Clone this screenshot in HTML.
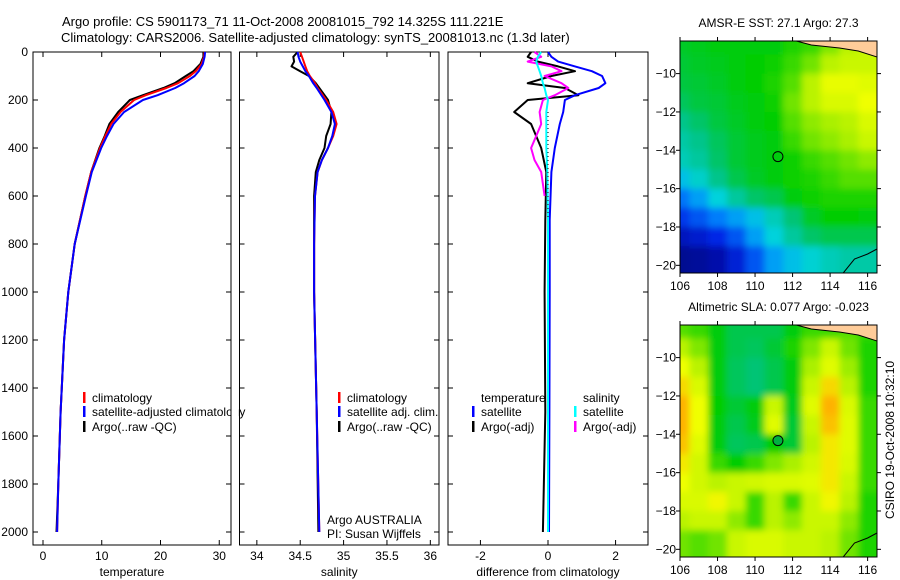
<!DOCTYPE html>
<html><head><meta charset="utf-8"><style>
body{margin:0;background:#fff}
svg{display:block;font-family:"Liberation Sans",sans-serif}
</style></head><body>
<svg id="fig" width="900" height="580" viewBox="0 0 900 580">
<defs>
<clipPath id="c1"><rect x="680" y="41" width="197" height="232"/></clipPath>
<clipPath id="c2"><rect x="680" y="325" width="197" height="232"/></clipPath>
<filter id="bl" x="-20%" y="-20%" width="140%" height="140%"><feGaussianBlur stdDeviation="3.5"/></filter>
</defs>
<text x="62" y="26" font-size="13">Argo profile: CS 5901173_71 11-Oct-2008 20081015_792 14.325S 111.221E</text>
<text x="61" y="42" font-size="13">Climatology: CARS2006. Satellite-adjusted climatology: synTS_20081013.nc (1.3d later)</text>
<g id="plots"></g>
</svg>
<script>
const NS="http://www.w3.org/2000/svg";
const svg=document.getElementById('plots');
function mk(t,a,p){const e=document.createElementNS(NS,t);for(const k in a)e.setAttribute(k,a[k]);(p||svg).appendChild(e);return e;}

// ---- data ----
const tDepth=[0,20,50,80,100,130,150,180,200,250,300,350,400,500,600,800,1000,1200,1500,1800,2000];
const tClim=[27.5,27.4,27,26,25,23,21,17.5,15.5,13.2,11.6,10.6,9.7,8.2,7.2,5.4,4.3,3.6,3.0,2.6,2.4];
const tSat=[27.6,27.5,27.2,26.5,25.8,24,22.5,19.5,17,13.8,12,10.9,9.9,8.3,7.3,5.4,4.3,3.6,3.0,2.6,2.4];
const tArgo=[27.3,27.3,26.8,25.6,24.3,22.4,20.5,17,14.8,12.8,11.3,10.5,9.6,8.2,7.2,5.4,4.3,3.6,3.0,2.6,2.3];
const sDepth=[0,20,40,60,80,100,130,150,200,250,300,350,400,450,500,600,800,1000,1500,2000];
const sClim=[34.5,34.52,34.54,34.56,34.58,34.61,34.67,34.7,34.8,34.88,34.92,34.88,34.82,34.75,34.7,34.67,34.66,34.66,34.69,34.72];
const sSat=[34.47,34.48,34.5,34.53,34.56,34.6,34.65,34.69,34.78,34.86,34.9,34.87,34.82,34.75,34.7,34.67,34.66,34.66,34.69,34.72];
const sArgo=[34.47,34.42,34.43,34.40,34.5,34.6,34.68,34.72,34.82,34.86,34.85,34.8,34.78,34.72,34.68,34.66,34.66,34.66,34.69,34.71];
const dDepth=[0,20,40,60,80,100,130,150,180,200,250,300,400,500,700,1000,1500,2000];
const dTSat=[0,0.1,0.3,0.8,1.3,1.6,1.7,1.5,0.8,0.5,0.45,0.35,0.2,0.1,0.05,0.05,0.04,0.03];
const dTArgo=[-0.5,-0.6,-0.3,0.3,0.8,0.1,-0.6,0.5,0.9,-0.6,-1.0,-0.5,-0.2,-0.05,-0.08,-0.1,-0.08,-0.15];
const dSSat=[-0.2,-0.3,-0.35,-0.3,-0.25,-0.2,-0.15,-0.1,-0.05,0,-0.05,-0.05,-0.05,-0.02,0,0,0,0];
const mDepth=[0,20,40,60,80,100,130,150,180,200,250,300,350,400,450,500,550,600];
const dSArgo=[-0.4,-0.2,-0.6,0.1,0.4,-0.1,0.4,0.6,0.2,-0.15,-0.25,-0.2,-0.35,-0.5,-0.4,-0.2,-0.15,-0.1];
const depthTicks=[0,200,400,600,800,1000,1200,1400,1600,1800,2000];
const tTicks=[0,10,20,30], sTicks=[34,34.5,35,35.5,36], dTicks=[-2,0,2];

const sstGrid=[
[.53,.54,.55,.55,.55,.55,.58,.6,.65,.7,.72],
[.52,.53,.54,.55,.56,.57,.6,.64,.7,.72,.72],
[.51,.52,.53,.55,.56,.58,.62,.7,.76,.76,.75],
[.49,.51,.52,.54,.55,.57,.64,.7,.74,.74,.77],
[.45,.48,.51,.53,.55,.56,.62,.66,.68,.7,.74],
[.42,.45,.49,.52,.54,.55,.6,.64,.66,.68,.72],
[.4,.43,.48,.52,.54,.55,.57,.6,.62,.64,.66],
[.33,.38,.45,.5,.53,.55,.57,.58,.6,.62,.62],
[.22,.28,.36,.43,.48,.5,.55,.57,.58,.58,.58],
[.14,.18,.23,.28,.33,.4,.47,.53,.56,.56,.55],
[.07,.09,.12,.18,.28,.36,.43,.48,.5,.5,.5],
[.02,.03,.05,.1,.18,.28,.33,.37,.4,.42,.42]];
const slaGrid=[
[.62,.6,.55,.5,.5,.5,.55,.6,.6,.62,.6],
[.7,.65,.55,.5,.49,.52,.58,.65,.72,.64,.58],
[.77,.7,.55,.49,.47,.5,.55,.68,.75,.67,.58],
[.82,.74,.55,.49,.47,.5,.55,.72,.82,.7,.58],
[.87,.77,.56,.52,.55,.72,.54,.75,.87,.74,.6],
[.87,.77,.55,.5,.54,.75,.52,.72,.85,.75,.6],
[.85,.75,.55,.49,.5,.56,.52,.7,.8,.75,.6],
[.8,.73,.6,.56,.6,.65,.68,.73,.8,.74,.6],
[.77,.73,.7,.72,.73,.74,.74,.75,.8,.72,.6],
[.74,.74,.78,.72,.6,.7,.6,.72,.78,.7,.58],
[.7,.72,.72,.66,.6,.7,.66,.72,.72,.66,.58],
[.64,.62,.64,.72,.74,.74,.72,.72,.7,.64,.58]];
const gridLon=[106,107,108,109,110,111,112,113,114,115,116];
const gridLat=[-8.5,-9.5,-10.5,-11.5,-12.5,-13.5,-14.5,-15.5,-16.5,-17.5,-18.5,-19.5];
const lonTicks=[106,108,110,112,114,116], latTicks=[-10,-12,-14,-16,-18,-20];
const argoPos=[111.22,-14.33];

// ---- profile panels ----
const PT=52, DPX=0.24;
const yD=d=>PT+d*DPX;
const panels=[
 {x0:33,x1:231,v0:-1.7,v1:32,ticks:tTicks,label:'temperature',name:'temperature-panel'},
 {x0:239.5,x1:439,v0:33.8,v1:36.1,ticks:sTicks,label:'salinity',name:'salinity-panel'},
 {x0:448,x1:648,v0:-2.96,v1:2.96,ticks:dTicks,label:'difference from climatology',name:'difference-panel'}];
const PB=545;
function xf(p){return v=>p.x0+(v-p.v0)/(p.v1-p.v0)*(p.x1-p.x0);}
panels.forEach((p,i)=>{
 const g=mk('g',{});
 
 
 const r=mk('rect',{x:p.x0,y:PT,width:p.x1-p.x0,height:PB-PT,fill:'#fff',stroke:'#000','stroke-width':1},g);
 
 
 const X=xf(p);
 p.ticks.forEach(t=>{
  const x=X(t);
  mk('line',{x1:x,x2:x,y1:PB,y2:PB-5,stroke:'#000'},g);
  mk('line',{x1:x,x2:x,y1:PT,y2:PT+5,stroke:'#000'},g);
  const tx=mk('text',{x:x,y:PB+15,'font-size':12,'text-anchor':'middle'},g);
  tx.textContent=t;
  
  
 });
 depthTicks.forEach(d=>{
  const y=yD(d);
  mk('line',{x1:p.x0,x2:p.x0+5,y1:y,y2:y,stroke:'#000'},g);
  mk('line',{x1:p.x1,x2:p.x1-5,y1:y,y2:y,stroke:'#000'},g);
  if(i==0){const tx=mk('text',{x:28,y:y+4,'font-size':12,'text-anchor':'end'},g);tx.textContent=d;
   
   }
 });
 const xl=mk('text',{x:(p.x0+p.x1)/2,y:576,'font-size':12,'text-anchor':'middle'},g);
 xl.textContent=p.label;
 
 
});
function line(pi,depths,vals,col,name,w){
 const X=xf(panels[pi]);
 const pts=vals.map((v,k)=>X(v).toFixed(1)+','+yD(depths[k]).toFixed(1)).join(' ');
 const e=mk('polyline',{points:pts,fill:'none',stroke:col,'stroke-width':w||2,'stroke-linejoin':'round'});
 
 
}
line(0,tDepth,tArgo,'#000','temperature-argo-line');
line(0,tDepth,tClim,'#f00','temperature-climatology-line');
line(0,tDepth,tSat,'#00f','temperature-satellite-line');
line(1,sDepth,sArgo,'#000','salinity-argo-line');
line(1,sDepth,sClim,'#f00','salinity-climatology-line');
line(1,sDepth,sSat,'#00f','salinity-satellite-line');
line(2,dDepth,dTArgo,'#000','temperature-diff-argo-line');
line(2,dDepth,dTSat,'#00f','temperature-diff-satellite-line');
line(2,mDepth,dSArgo,'#f0f','salinity-diff-argo-line');
line(2,dDepth,dSSat,'#0ff','salinity-diff-satellite-line');
{const X=xf(panels[2]);const z=mk('line',{x1:X(0),x2:X(0),y1:yD(250),y2:yD(700),stroke:'#000','stroke-dasharray':'1,3'});
 
 }

// legends
function leg(x,y,col,txt,name){
 const g=mk('g',{});
 
 
 if(col)mk('rect',{x:x,y:y-10,width:2.5,height:11,fill:col},g);
 const t=mk('text',{x:x+9,y:y,'font-size':12},g);t.textContent=txt;
}
leg(83,402,'#f00','climatology','legend-climatology');
leg(83,416,'#00f','satellite-adjusted climatology','legend-satellite-adjusted');
leg(83,431,'#000','Argo(..raw -QC)','legend-argo');
leg(338,402,'#f00','climatology','legend-climatology-2');
leg(338,416,'#00f','satellite adj. clim.','legend-satellite-adj-2');
leg(338,431,'#000','Argo(..raw -QC)','legend-argo-2');
leg(472,402,null,'temperature','legend-temperature-header');
leg(472,416,'#00f','satellite','legend-temp-satellite');
leg(472,431,'#000','Argo(-adj)','legend-temp-argo');
leg(574,402,null,'salinity','legend-salinity-header');
leg(574,416,'#0ff','satellite','legend-sal-satellite');
leg(574,431,'#f0f','Argo(-adj)','legend-sal-argo');
{const t=mk('text',{x:327,y:524,'font-size':12});t.textContent='Argo AUSTRALIA';
 
 const t2=mk('text',{x:327,y:538,'font-size':12});t2.textContent='PI: Susan Wijffels';
 }
mk('rect',{x:231.5,y:380,width:7,height:60,fill:'#fff'});
mk('line',{x1:231,x2:231,y1:380,y2:440,stroke:'#000'});

// ---- maps ----
const stops=[[0,[0,0,128]],[.12,[0,40,230]],[.25,[0,140,255]],[.36,[0,210,220]],[.46,[0,195,130]],[.56,[0,205,0]],[.68,[170,240,0]],[.77,[240,255,0]],[.88,[255,170,0]],[1,[255,100,0]]];
function cmap(v){for(let i=1;i<stops.length;i++){if(v<=stops[i][0]){const a=stops[i-1],b=stops[i],t=(v-a[0])/(b[0]-a[0]);
 return 'rgb('+a[1].map((c,k)=>Math.round(c+(b[1][k]-c)*t)).join(',')+')';}}return 'rgb(255,100,0)';}
function drawMap(grid,top,title,clip,name,filled){
 const L=680,W=197,H=232;
 const lon0=106.0,lon1=116.5,lat0=-8.3,lat1=-20.4;
 const X=v=>L+(v-lon0)/(lon1-lon0)*W, Y=v=>top+(v-lat0)/(lat1-lat0)*H;
 const g=mk('g',{});
 
 
 const cg=mk('g',{'clip-path':'url(#'+clip+')'},g);
 const bg=mk('g',{filter:'url(#bl)'},cg);
 const nr=grid.length, nc=grid[0].length;
 grid.forEach((row,r)=>row.forEach((v,c)=>{
  let x=X(gridLon[c]-0.5),y=Y(gridLat[r]+0.5);
  let w=X(1)-X(0)+1,h=Y(-1)-Y(0)+1;
  if(c==0){x-=20;w+=20;} if(c==nc-1){w+=30;}
  if(r==0){y-=20;h+=20;} if(r==nr-1){h+=30;}
  const e=mk('rect',{x:x,y:y,width:w,height:h,fill:cmap(v)},bg);
  
  
 }));
 // land
 mk('path',{d:`M${X(112.2)},${top} L${X(113)},${top+4} L${X(114.5)},${top+7} L${X(115.5)},${top+10} L${X(116.5)},${top+16} L${X(116.6)},${top} Z`,fill:'#ffcc99',stroke:'#000','stroke-width':1},cg);
 mk('path',{d:`M${X(114.7)},${top+H} L${X(115.3)},${top+H-14} L${X(116)},${top+H-19} L${X(116.5)},${top+H-24}`,fill:'none',stroke:'#000'},cg);
 mk('rect',{x:L,y:top,width:W,height:H,fill:'none',stroke:'#000'},g);
 lonTicks.forEach(t=>{const x=X(t);mk('line',{x1:x,x2:x,y1:top+H,y2:top+H+4,stroke:'#000'},g);mk('line',{x1:x,x2:x,y1:top,y2:top-4,stroke:'#000'},g);
  const tx=mk('text',{x:x,y:top+H+17,'font-size':12,'text-anchor':'middle'},g);tx.textContent=t;
  });
 latTicks.forEach(t=>{const y=Y(t);mk('line',{x1:L,x2:L-4,y1:y,y2:y,stroke:'#000'},g);mk('line',{x1:L+W,x2:L+W+4,y1:y,y2:y,stroke:'#000'},g);
  const tx=mk('text',{x:L-4,y:y+4,'font-size':12,'text-anchor':'end'},g);tx.textContent='\u2212'+(-t);
  });
 const c=mk('circle',{cx:X(argoPos[0]),cy:Y(argoPos[1]),r:5,fill:filled?'#00b040':'none',stroke:'#000'},g);
 
 const tt=mk('text',{x:L+W/2,y:top-14,'font-size':12,'text-anchor':'middle'},g);tt.textContent=title;
 
}
drawMap(sstGrid,41,'AMSR-E SST: 27.1 Argo: 27.3','c1','sst-map',false);
drawMap(slaGrid,325,'Altimetric SLA: 0.077 Argo: -0.023','c2','sla-map',true);
{const t=mk('text',{x:0,y:0,'font-size':12,'text-anchor':'middle',transform:'translate(894,440) rotate(-90)'});
 t.textContent='CSIRO 19-Oct-2008 10:32:10';
 }
</script>
</body></html>
